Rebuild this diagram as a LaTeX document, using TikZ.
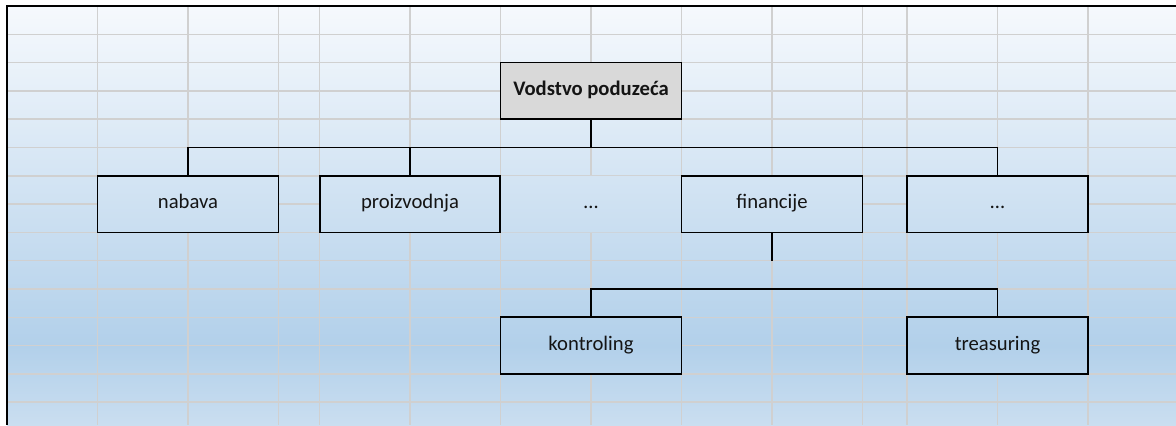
\documentclass[tikz,border=0pt]{standalone}
\usepackage{fontspec}
\setmainfont{Carlito}
\definecolor{gridc}{RGB}{208,208,208}
\definecolor{topc}{RGB}{246,249,253}
\definecolor{midc}{RGB}{178,208,234}
\definecolor{botc}{RGB}{202,222,240}
\definecolor{headc}{RGB}{217,217,217}
\definecolor{txt}{RGB}{20,20,20}
\begin{document}
\begin{tikzpicture}[x=0.75pt,y=-0.75pt,
  gridline/.style={gridc,line width=1.1pt},
  frame/.style={black,line width=0.8pt},
  box/.style={draw=black,line width=1.3pt,inner sep=0pt,outer sep=0pt,
    minimum height=42.45pt,text=txt,text height=0.92em,text depth=0.24em,
    font=\fontsize{15.5}{18}\selectfont},
  plain/.style={inner sep=0pt,outer sep=0pt,minimum height=42.45pt,
    text=txt,text height=0.92em,text depth=0.24em,font=\fontsize{15.5}{18}\selectfont},
  conn/.style={black,line width=1.3pt}]
\useasboundingbox (0,0) rectangle (1176,425);
\fill[white] (0,0) rectangle (1176,425);
% background gradient
\shade[top color=topc,bottom color=midc] (7,6) rectangle (1176,345.6);
\shade[top color=midc,bottom color=botc] (7,345.6) rectangle (1176,425);
% grid
\foreach \x in {97.5,188,278.5,319.5,410,500.5,591,681.5,772,862.5,907,997.5,1088}
  \draw[gridline] (\x,6) -- (\x,425);
\foreach \y in {34.3,62.6,90.9,119.2,147.5,175.8,204.1,232.4,260.7,289,317.3,345.6,373.9,402.2}
  \draw[gridline] (7,\y) -- (1176,\y);
% merged cells: restore background
\begin{scope}
  \clip (97.5,175.8) rectangle (278.5,232.4)
        (319.5,175.8) rectangle (862.5,232.4)
        (907,175.8) rectangle (1088,232.4)
        (500.5,317.3) rectangle (681.5,373.9)
        (907,317.3) rectangle (1088,373.9);
  \shade[top color=topc,bottom color=midc] (7,6) rectangle (1176,345.6);
  \shade[top color=midc,bottom color=botc] (7,345.6) rectangle (1176,425);
\end{scope}
% frame
\draw[frame] (7,425) -- (7,6) -- (1176,6);
% nodes
\node[box,fill=headc,minimum width=135.75pt,font=\fontsize{15.5}{18}\selectfont\bfseries]
  (top) at (591,90.9) {Vodstvo poduzeća};
\node[box,minimum width=135.75pt] (nabava) at (188,204.1) {nabava};
\node[box,minimum width=135.4pt] (proiz) at (410,204.1) {proizvodnja};
\node[plain,minimum width=135.75pt] (dots1) at (591,204.1) {…};
\node[box,minimum width=135.75pt] (fin) at (772,204.1) {financije};
\node[box,minimum width=135.75pt] (dots2) at (997.5,204.1) {…};
\node[box,minimum width=135.75pt] (kontr) at (591,345.6) {kontroling};
\node[box,minimum width=135.75pt] (treas) at (997.5,345.6) {treasuring};
% connectors
\coordinate (b1) at (591,147.5);
\coordinate (b2) at (591,289);
\coordinate (finend) at (772,260.7);
\draw[conn] (top.south) -- (b1);
\draw[conn] (nabava.north) |- (b1);
\draw[conn] (dots2.north) |- (b1);
\draw[conn] (proiz.north) -- (proiz.north |- b1);
\draw[conn] (fin.south) -- (finend);
\draw[conn] (kontr.north) -- (b2) -| (treas.north);
\end{tikzpicture}
\end{document}
